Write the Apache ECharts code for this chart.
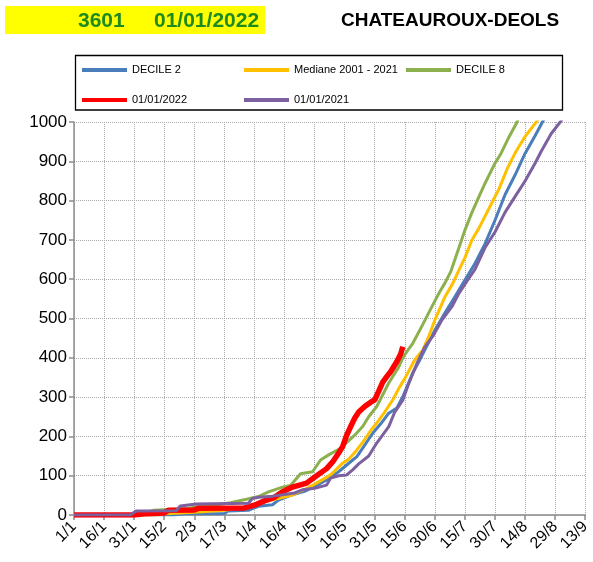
<!DOCTYPE html>
<html>
<head>
<meta charset="utf-8">
<script src="https://cdn.jsdelivr.net/npm/echarts@6/dist/echarts.min.js"></script>
<style>
  html, body { margin: 0; padding: 0; background: #fff; }
  #main { width: 593px; height: 562px; }
</style>
</head>
<body>
<div id="main"></div>
<script>
// jours depuis le 1/1, une graduation tous les 15 jours
var tickLabels = ['1/1', '16/1', '31/1', '15/2', '2/3', '17/3', '1/4', '16/4', '1/5',
    '16/5', '31/5', '15/6', '30/6', '15/7', '30/7', '14/8', '29/8', '13/9'];

// [jour, cumul]
var decile2 = [[0,0],[50,0],[55,3],[75,4],[77,10],[87,12],[89,16],[92,22],[99,26],[102,38],
    [108,50],[115,60],[121,75],[126,89],[132,110],[139,140],[141,148],[144,170],[149,208],
    [153,232],[157,259],[161,272],[164,301],[169,362],[172,390],[175,420],[180,470],[185,514],
    [190,555],[195,598],[200,640],[205,690],[210,750],[215,815],[220,865],[225,920],[230,965],
    [234,1003],[237,1040]];

var mediane = [[0,0],[40,0],[45,3],[60,7],[75,12],[85,20],[92,30],[100,40],[109,51],[115,65],
    [121,81],[128,102],[134,132],[137,142],[141,165],[145,192],[148,215],[151,234],[155,262],
    [159,293],[162,322],[165.5,352],[170,395],[174,420],[177,455],[180,496],[185,555],[189,590],
    [192,623],[195,655],[198.5,700],[202,730],[208,790],[212,830],[216,880],[220,921],[225,963],
    [231,1003],[234,1040]];

var decile8 = [[0,0],[30,0],[35,5],[40,12],[52,15],[58,18],[62,22],[70,25],[78,31],[86,40],
    [92,47],[97,59],[104,71],[108,75],[113,105],[119,110],[123,140],[127,153],[133,170],
    [140,203],[144,225],[147,250],[151,276],[157,336],[162,377],[164,400],[167,423],[169,437],
    [174,485],[178,525],[182,564],[185,590],[188,620],[192,680],[195,725],[198.5,770],[202,810],
    [205,844],[210,895],[213,920],[217,962],[221,1000],[224,1040]];

var an2022 = [[0,0],[30,0],[35,3],[45,5],[47,12],[60,13],[62,17],[85,18],[90,25],[95,36],
    [100,45],[104,59],[109,71],[116,81],[121,100],[126,118],[129,135],[132,158],[134,174],
    [136,203],[138,225],[140,246],[142,262],[145,276],[148,287],[150,293],[152,315],[154,338],
    [156,352],[158,365],[161,390],[163,410],[164,428]];

var an2021 = [[0,0],[28,0],[31,10],[51,11],[53,23],[61,28],[87,30],[89,42],[92,45],[99,48],
    [105,52],[110,56],[114,64],[120,68],[126,76],[128,94],[132,100],[136,102],[139,115],
    [142,130],[147,150],[151,183],[157,225],[160,262],[164,292],[167,335],[171,385],[175,428],
    [179,455],[183.5,496],[188.5,530],[192,564],[196,595],[200,625],[205,680],[210,720],
    [215,770],[220,810],[225,850],[230,895],[233,925],[238,970],[243,1003],[246,1040]];

var font = 'Liberation Sans, Arial, sans-serif';

function lg(name, left, top) {
    return {
        data: [name], left: left, top: top, orient: 'horizontal',
        icon: 'rect', itemWidth: 45, itemHeight: 4, itemGap: 0,
        padding: 0, selectedMode: false,
        textStyle: { fontFamily: font, fontSize: 11, color: '#000' }
    };
}

function serie(name, data, color, width) {
    return {
        name: name, type: 'line', data: data, showSymbol: false, symbol: 'none',
        clip: true, color: color,
        lineStyle: { color: color, width: width }
    };
}

var chart = echarts.init(document.getElementById('main'));
chart.setOption({
    animation: false,
    backgroundColor: '#fff',
    graphic: [
        { type: 'rect', shape: { x: 5, y: 6, width: 260, height: 28 }, style: { fill: '#ffff00' } },
        { type: 'text', x: 78, y: 21, style: { text: '3601', font: 'bold 21px ' + font, fill: '#1e8b1e', textVerticalAlign: 'middle' } },
        { type: 'text', x: 154, y: 21, style: { text: '01/01/2022', font: 'bold 21px ' + font, fill: '#1e8b1e', textVerticalAlign: 'middle' } },
        { type: 'text', x: 341, y: 21, style: { text: 'CHATEAUROUX-DEOLS', font: 'bold 19px ' + font, fill: '#000', textVerticalAlign: 'middle' } },
        { type: 'rect', shape: { x: 75.5, y: 55.5, width: 487, height: 54.5 }, style: { fill: 'none', stroke: '#000', lineWidth: 1.3 } }
    ],
    legend: [
        lg('DECILE 2', 82, 64.5),
        lg('Mediane 2001 - 2021', 244, 64.5),
        lg('DECILE 8', 406, 64.5),
        lg('01/01/2022', 82, 94.5),
        lg('01/01/2021', 244, 94.5)
    ],
    grid: { left: 74, right: 6, top: 122, bottom: 47 },
    xAxis: {
        type: 'value', min: 0, max: 255, interval: 15,
        axisLine: { lineStyle: { color: '#8c8c8c', width: 1.5 } },
        axisTick: { show: true, length: 5, lineStyle: { color: '#8c8c8c', width: 1.5 } },
        splitLine: { show: true, lineStyle: { type: 'dotted', color: '#ababab', width: 1 } },
        axisLabel: {
            rotate: 45, margin: 9, fontFamily: font, fontSize: 16, color: '#000',
            formatter: function (v) { return tickLabels[Math.round(v / 15)]; }
        }
    },
    yAxis: {
        type: 'value', min: 0, max: 1000, interval: 100,
        axisLine: { show: true, lineStyle: { color: '#8c8c8c', width: 1.5 } },
        axisTick: { show: true, length: 5, lineStyle: { color: '#8c8c8c', width: 1.5 } },
        splitLine: { show: true, lineStyle: { type: 'dotted', color: '#ababab', width: 1 } },
        axisLabel: {
            margin: 7, fontFamily: font, fontSize: 17, color: '#000',
            formatter: function (v) { return String(v); }
        }
    },
    series: [
        serie('DECILE 2', decile2, '#4a7ebb', 3),
        serie('Mediane 2001 - 2021', mediane, '#ffc000', 3),
        serie('DECILE 8', decile8, '#8db04e', 3),
        serie('01/01/2022', an2022, '#ff0000', 5.5),
        serie('01/01/2021', an2021, '#7d60a0', 3)
    ]
});
</script>
</body>
</html>
